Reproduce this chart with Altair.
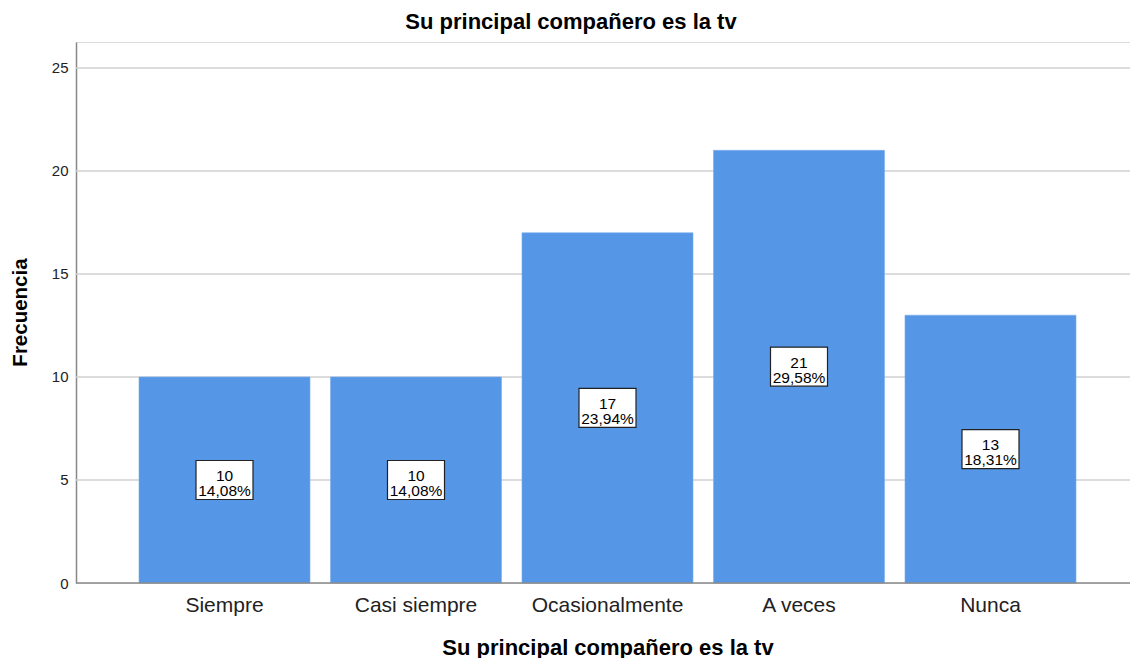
import altair as alt
import pandas as pd

categories = ["Siempre", "Casi siempre", "Ocasionalmente", "A veces", "Nunca"]
counts = [10, 10, 17, 21, 13]
percents = ["14,08%", "14,08%", "23,94%", "29,58%", "18,31%"]
y_ticks = [0, 5, 10, 15, 20, 25]

df = pd.DataFrame({
    "cat": categories,
    "n": counts,
    "pct": percents,
})
df["mid"] = df["n"] / 2
df["label"] = df["n"].astype(str) + "\n" + df["pct"]

grid_df = pd.DataFrame({"g": y_ticks[1:]})

FONT = "Liberation Sans"
TITLE = "Su principal compañero es la tv"

x = alt.X(
    "cat:N",
    sort=categories,
    scale=alt.Scale(range=[63, 1000], paddingInner=0.107, paddingOuter=0),
    axis=alt.Axis(
        title=TITLE,
        titleFont=FONT, titleFontSize=22, titleFontWeight="bold", titleColor="#000",
        titleY=71, titleBaseline="alphabetic", titleAnchor="middle",
        labelFont=FONT, labelFontSize=21, labelColor="#222", labelPadding=11,
        labelAngle=0, ticks=False, domain=False, grid=False,
    ),
)

yscale = alt.Scale(domain=[0, 26.26], nice=False)

grid = alt.Chart(grid_df).mark_rule(color="#d0d0d0", strokeWidth=1.6).encode(
    y=alt.Y("g:Q", scale=yscale)
)

bars = alt.Chart(df).mark_bar(color="#5596E6", stroke="#7aaeee", strokeWidth=0.6).encode(
    x=x,
    y=alt.Y(
        "n:Q",
        scale=yscale,
        axis=alt.Axis(
            title="Frecuencia",
            titleFont=FONT, titleFontSize=20.5, titleFontWeight="bold", titleColor="#000",
            titleX=-50, titleY=270, titleBaseline="alphabetic", titleAngle=-90,
            values=y_ticks, labelFont=FONT, labelFontSize=15, labelColor="#222",
            labelPadding=8, ticks=False, domain=True, domainColor="#888",
            domainWidth=1.5, grid=False,
        ),
    ),
)

baseline = alt.Chart(pd.DataFrame({"z": [0]})).mark_rule(color="#888", strokeWidth=1.5).encode(
    y=alt.Y("z:Q", scale=yscale)
)

boxes = alt.Chart(df).mark_rect(
    width=57, height=39, fill="white", stroke="#222", strokeWidth=1.2
).encode(
    x=alt.X("cat:N", sort=categories),
    y=alt.Y("mid:Q", scale=yscale),
)

labels = alt.Chart(df).mark_text(
    font=FONT, fontSize=15.5, color="#000", lineBreak="\n", baseline="middle", align="center",
    lineHeight=15, dy=-4,
).encode(
    x=alt.X("cat:N", sort=categories),
    y=alt.Y("mid:Q", scale=yscale),
    text="label:N",
)

chart = alt.layer(grid, bars, baseline, boxes, labels).properties(
    width=1054,
    height=541,
    title=alt.TitleParams(
        TITLE, font=FONT, fontSize=22, fontWeight="bold", color="#000",
        anchor="middle", dx=-32, offset=8,
    ),
    autosize=alt.AutoSizeParams(type="none"),
    padding={"left": 76, "top": 42, "right": 0, "bottom": 75},
).configure_view(strokeWidth=0).configure(background="white")

chart.save("out.html", embed_options={"renderer": "svg", "actions": False})
